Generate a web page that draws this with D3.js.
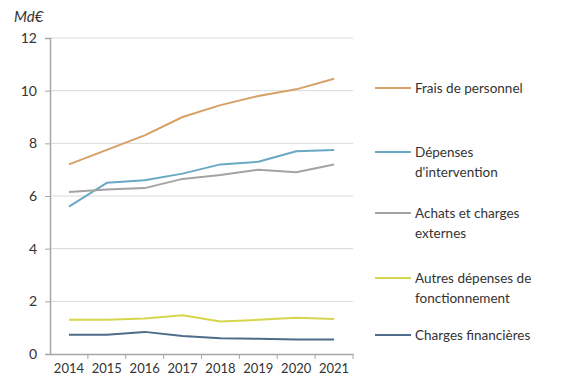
<!DOCTYPE html>
<html>
<head>
<meta charset="utf-8">
<script src="https://cdn.jsdelivr.net/npm/d3@7"></script>
<style>
  body { margin: 0; background: #fff; }
  text { font-family: Lato, "Open Sans", sans-serif; fill: #333; }
</style>
</head>
<body>
<div id="chart"></div>
<script>
// data (Md€)
const years = ['2014', '2015', '2016', '2017', '2018', '2019', '2020', '2021'];
const fraisPersonnel = [7.2, 7.75, 8.3, 9.0, 9.45, 9.8, 10.05, 10.45];
const depensesIntervention = [5.6, 6.5, 6.6, 6.85, 7.2, 7.3, 7.7, 7.75];
const achatsCharges = [6.15, 6.25, 6.3, 6.65, 6.8, 7.0, 6.9, 7.2];
const autresDepenses = [1.3, 1.3, 1.35, 1.47, 1.23, 1.3, 1.38, 1.33];
const chargesFinancieres = [0.73, 0.73, 0.84, 0.68, 0.6, 0.58, 0.55, 0.55];
const yTicks = [0, 2, 4, 6, 8, 10, 12];

const series = [
  { name: ['Frais de personnel'], values: fraisPersonnel, color: '#d6a066' },
  { name: ['Dépenses', "d'intervention"], values: depensesIntervention, color: '#6aa8c4' },
  { name: ['Achats et charges', 'externes'], values: achatsCharges, color: '#a3a3a3' },
  { name: ['Autres dépenses de', 'fonctionnement'], values: autresDepenses, color: '#d6d64e' },
  { name: ['Charges financières'], values: chargesFinancieres, color: '#4f6d8a' }
];

const svgW = 561, svgH = 380;
const margin = { top: 38, right: 208, bottom: 26, left: 50 };

const chart = d3.select('#chart').append('svg')
  .attr('width', svgW)
  .attr('height', svgH);

const x = d3.scaleBand()
  .domain(years)
  .range([margin.left, svgW - margin.right]);

const y = d3.scaleLinear()
  .domain([0, 12])
  .range([svgH - margin.bottom, margin.top]);

// horizontal gridlines
chart.append('g')
  .selectAll('line')
  .data(yTicks.filter(d => d > 0))
  .join('line')
  .attr('x1', margin.left).attr('x2', svgW - margin.right)
  .attr('y1', d => y(d)).attr('y2', d => y(d))
  .attr('stroke', '#dadada').attr('stroke-width', 1);

// y axis
const yAxis = chart.append('g')
  .attr('transform', `translate(${margin.left},0)`)
  .call(d3.axisLeft(y).tickValues(yTicks).tickSize(5).tickPadding(8));
yAxis.select('.domain').attr('stroke', '#a6a6a6').attr('stroke-width', 1.5);
yAxis.selectAll('.tick line').attr('stroke', '#a6a6a6');
yAxis.selectAll('text').style('font-size', '14px').attr('fill', '#333');

// x axis: labels centred in bands, ticks on band edges
const xAxis = chart.append('g')
  .attr('transform', `translate(0,${y(0)})`)
  .call(d3.axisBottom(x).tickSize(0).tickPadding(10));
xAxis.select('.domain').attr('stroke', '#a6a6a6').attr('stroke-width', 1.5);
xAxis.selectAll('text').style('font-size', '13px').attr('fill', '#333');

chart.append('g')
  .selectAll('line')
  .data(years)
  .join('line')
  .attr('x1', d => x(d) + x.bandwidth()).attr('x2', d => x(d) + x.bandwidth())
  .attr('y1', y(0)).attr('y2', y(0) + 5)
  .attr('stroke', '#a6a6a6');

// unit label
chart.append('text')
  .attr('x', 14).attr('y', 22)
  .style('font-size', '15px').style('font-style', 'italic')
  .text('Md€');

// lines
const line = d3.line()
  .x((d, i) => x(years[i]) + x.bandwidth() / 2)
  .y(d => y(d));

chart.append('g')
  .selectAll('path')
  .data(series)
  .join('path')
  .attr('d', d => line(d.values))
  .attr('fill', 'none')
  .attr('stroke', d => d.color)
  .attr('stroke-width', 2)
  .attr('stroke-linejoin', 'round');

// legend
const legendY = [88, 152, 213, 278, 335];
const legend = chart.append('g');
series.forEach((s, i) => {
  const row = legend.append('g').attr('transform', `translate(375,${legendY[i]})`);
  row.append('line')
    .attr('x1', 0).attr('x2', 36)
    .attr('y1', 0).attr('y2', 0)
    .attr('stroke', s.color).attr('stroke-width', 2);
  const t = row.append('text')
    .attr('x', 40).attr('y', 4.5)
    .style('font-size', '13.5px');
  s.name.forEach((part, k) => {
    t.append('tspan').attr('x', 40).attr('dy', k === 0 ? 0 : 20).text(part);
  });
});
</script>
</body>
</html>
